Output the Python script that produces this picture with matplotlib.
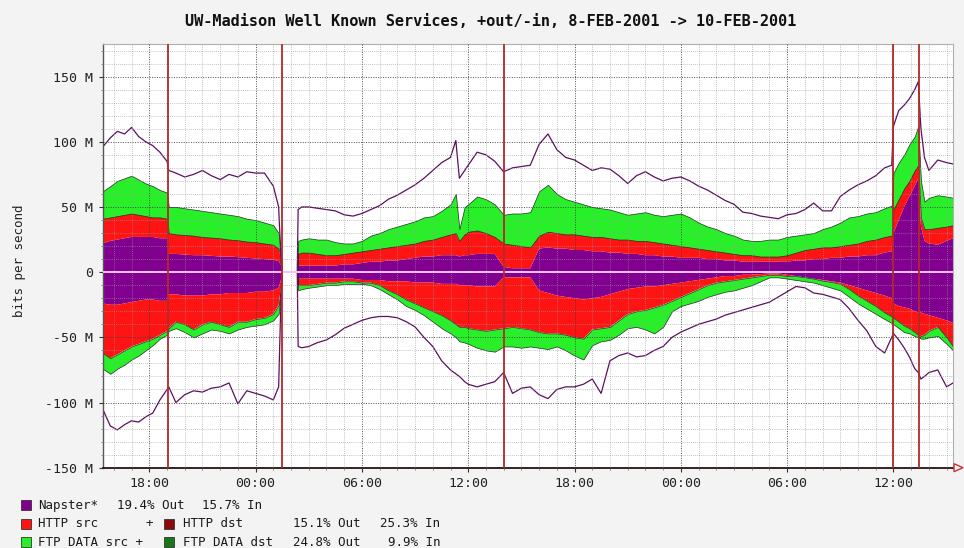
import numpy as np
import matplotlib
matplotlib.use("Agg")
import matplotlib.pyplot as plt
from matplotlib.patches import Rectangle, Polygon
from matplotlib.ticker import MultipleLocator

# ---------------- data (hours since 18:00, 8-FEB-2001; values in Mbit/s) ----------------
hours = [-2.63, -2.2, -1.8, -1.4, -1.0, -0.6, -0.2, 0.2, 0.6, 1.0, 1.1, 1.5, 2.0, 2.5, 3.0,
         3.5, 4.0, 4.5, 5.0, 5.5, 6.0, 6.5, 7.0, 7.3, 7.45,
         7.5, 8.35,
         8.4, 8.6, 9.0, 9.5, 10.0, 10.5, 11.0, 11.5, 12.0, 12.5,
         13.0, 13.5, 14.0, 14.5, 15.0, 15.5, 16.0, 16.5, 17.0, 17.3,
         17.5, 17.8, 18.0, 18.5, 19.0, 19.5, 20.0, 20.5, 21.0, 21.5,
         22.0, 22.5, 23.0, 23.5, 24.0, 24.5, 25.0, 25.5, 26.0, 26.5,
         27.0, 27.5, 28.0, 28.5, 29.0, 29.5, 30.0, 30.5, 31.0, 31.5,
         32.0, 32.5, 33.0, 33.5, 34.0, 34.5, 35.0, 35.5, 36.0, 36.5,
         37.0, 37.5, 38.0, 38.5, 39.0, 39.5, 40.0, 40.5, 41.0, 41.5,
         41.9, 42.0, 42.3, 42.6, 42.9, 43.2, 43.4, 43.55, 43.75,
         44.0, 44.5, 45.0, 45.36]

napster_out = [22, 24, 25, 26, 27, 27, 27, 27, 26, 26, 14, 14, 13.5, 13, 13, 12.5, 12, 12, 11.5, 11, 10.5, 10, 9.5, 8.5, 5,
               0, 0,
               5, 5, 5, 5, 5, 5, 6, 6, 7, 8,
               8, 9, 9, 10, 11, 12, 12, 13, 13, 13,
               12, 13, 13, 14, 14, 14, 4, 3, 3, 3,
               18, 19, 18, 18, 17, 17, 16, 16, 15, 15,
               14, 14, 13, 13, 12, 12, 11, 11, 11, 10,
               10, 9, 9, 8, 8, 8, 8, 8, 8, 9,
               9, 10, 10, 11, 11, 12, 12, 13, 13, 15,
               16, 30, 40, 50, 58, 66, 72, 35, 24,
               22, 21, 24, 26]

http_out = [19, 18, 18, 18, 18, 17, 16, 15, 16, 15, 16, 15, 15, 15, 14, 14, 14, 13, 13, 12.5, 12.5, 12, 11.5, 9.5, 5,
            0, 0,
            9, 10, 10, 9, 8, 8, 8, 9, 9, 9,
            10, 10, 11, 11, 11, 12, 13, 14, 16, 17,
            12, 16, 18, 18, 16, 13, 18, 18, 17, 16,
            10, 12, 12, 11, 12, 11, 11, 11, 11, 10,
            11, 10, 11, 10, 10, 9, 9, 8, 7, 7,
            6, 6, 5, 5, 5, 4, 4, 4, 5, 6,
            8, 8, 9, 8, 9, 9, 10, 11, 12, 12,
            12, 18, 16, 14, 12, 12, 10, 7, 9,
            11, 13, 11, 10]

ftp_out = [21, 24, 27, 28, 29, 27, 25, 24, 21, 20, 20, 21, 20.5, 20, 20, 19.5, 19, 19, 18.5, 17.5, 17, 16, 15, 12, 2,
           0, 0,
           10, 10, 11, 11, 12, 10, 8, 7, 8, 11,
           12, 14, 15, 16, 17, 18, 18, 20, 23, 30,
           9, 21, 21, 26, 26, 25, 22, 24, 25, 27,
           34, 36, 30, 27, 25, 24, 23, 22, 22, 21,
           19, 21, 22, 21, 21, 23, 25, 23, 20, 18,
           17, 15, 14, 12, 11, 12, 13, 13, 14, 13,
           12, 12, 14, 16, 18, 21, 21, 21, 21, 22,
           23, 28, 28, 26, 28, 26, 30, 28, 21,
           24, 25, 23, 21]

total_out = [96, 103, 108, 106, 111, 104, 100, 97, 92, 85, 78, 76, 73, 75, 78, 74, 71, 75, 73, 77, 76, 76, 66, 50, 5,
             0, 0,
             48, 50, 50, 49, 48, 47, 44, 43, 45, 48,
             51, 56, 59, 63, 67, 72, 78, 84, 88, 101,
             72, 78, 82, 92, 90, 85, 77, 80, 81, 82,
             98, 106, 94, 88, 86, 82, 78, 80, 79, 74,
             68, 74, 77, 73, 70, 72, 73, 70, 66, 63,
             59, 55, 52, 46, 45, 43, 42, 41, 44, 45,
             48, 53, 47, 47, 58, 63, 67, 70, 74, 80,
             82, 112, 124, 128, 133, 140, 146, 110, 88,
             78, 86, 84, 83]

napster_in = [24, 25, 25, 24, 23, 22, 21, 21, 22, 22, 17, 17, 18, 18, 18, 17, 17, 16, 16, 16, 15, 15, 14, 12, 5,
              0, 0,
              5, 5, 5, 5, 5, 5, 5, 5, 6, 6,
              6, 7, 7, 7, 8, 8, 8, 9, 9, 9,
              10, 10, 10, 11, 11, 11, 4, 4, 4, 4,
              14, 16, 18, 19, 20, 21, 20, 19, 17, 15,
              13, 12, 11, 11, 10, 9, 8, 7, 6, 5,
              4, 3, 3, 2, 2, 1.5, 1, 1, 2, 3,
              4, 5, 6, 7, 8, 10, 12, 14, 16, 18,
              20, 24, 26, 27, 28, 30, 31, 31, 32,
              33, 35, 37, 39]

http_in = [38, 41, 38, 36, 34, 33, 32, 30, 26, 23, 26, 21, 22, 26, 22, 21, 23, 26, 22, 22, 21, 20, 18, 13, 5,
           0, 0,
           5, 5, 5, 4, 3, 3, 2, 2, 2, 2,
           4, 7, 10, 14, 16, 19, 22, 24, 28, 31,
           32, 32, 33, 33, 34, 33, 39, 38, 39, 40,
           32, 31, 29, 29, 30, 30, 24, 24, 25, 22,
           19, 18, 18, 16, 15, 13, 11, 9, 7, 5,
           4, 4, 3, 3, 2, 1.5, 1, 1, 1, 0,
           0, 0, 0.5, 0.5, 1, 3, 6, 8, 10, 13,
           14, 11, 12, 14, 15, 16, 17, 18, 16,
           12, 7, 13, 18]

ftp_in = [12, 12, 11, 11, 10, 9, 7, 5, 3, 3, 2, 5, 6, 6, 7, 6, 5, 5, 6, 4, 5, 5, 5, 7, 2,
          0, 0,
          4, 3, 2, 2, 2, 2, 2, 2, 1, 2,
          3, 3, 4, 5, 5, 6, 8, 10, 10, 10,
          11, 12, 12, 14, 15, 17, 14, 15, 15, 13,
          12, 12, 10, 12, 14, 16, 12, 10, 10, 11,
          11, 12, 15, 20, 17, 8, 7, 8, 9, 9,
          9, 8, 8, 7, 6, 4, 2, 2, 2, 3,
          3, 3, 3.5, 4.5, 5, 6, 6, 6, 6, 5,
          5, 5, 5, 5, 4, 3, 2, 2, 3,
          5, 7, 5, 3]

total_in = [105, 118, 121, 117, 114, 115, 111, 108, 98, 90, 88, 100, 94, 91, 92, 89, 88, 85, 101, 91, 93, 95, 98, 88, 10,
            0, 0,
            57, 58, 57, 54, 52, 48, 43, 40, 37, 35,
            34, 34, 35, 38, 42, 50, 57, 68, 75, 78,
            80, 84, 86, 88, 86, 84, 77, 93, 89, 88,
            94, 97, 90, 88, 88, 86, 82, 93, 68, 64,
            62, 65, 64, 60, 57, 50, 46, 43, 40, 38,
            36, 33, 31, 29, 27, 25, 23, 19, 15, 11,
            12, 16, 17, 19, 21, 28, 37, 45, 57, 62,
            50, 47, 52, 58, 65, 74, 77, 82, 80,
            77, 75, 88, 85]

event_hours = [1.04, 7.47, 20.03, 41.95, 43.45]

x_tick_hours = [0, 6, 12, 18, 24, 30, 36, 42]
x_tick_labels = ["18:00", "00:00", "06:00", "12:00", "18:00", "00:00", "06:00", "12:00"]
y_ticks = [-150, -100, -50, 0, 50, 100, 150]
y_tick_labels = ["-150 M", "-100 M", "-50 M", "0", "50 M", "100 M", "150 M"]

title = "UW-Madison Well Known Services, +out/-in, 8-FEB-2001 -> 10-FEB-2001"
ylabel = "bits per second"

# ---------------- style ----------------
W, H = 964, 548
C_PURPLE = "#82008f"
C_RED = "#ff1414"
C_DRED = "#8a0a0a"
C_GREEN = "#28f028"
C_DGREEN = "#187818"
C_LINE = "#5c1060"
C_EVENT = "#b4282a"
MONO = "DejaVu Sans Mono"

fig = plt.figure(figsize=(W / 100, H / 100), dpi=100, facecolor="#f3f3f3")
ax_l, ax_r, ax_t, ax_b = 102.7, 953.0, 44.0, 467.7
ax = fig.add_axes([ax_l / W, 1 - ax_b / H, (ax_r - ax_l) / W, (ax_b - ax_t) / H])
ax.set_facecolor("white")

t = np.array(hours)
pos = ax.stackplot(t, napster_out, http_out, ftp_out,
                   colors=[C_PURPLE, C_RED, C_GREEN], linewidth=0, zorder=1)
neg = ax.stackplot(t, -np.array(napster_in), -np.array(http_in), -np.array(ftp_in),
                   colors=[C_PURPLE, C_RED, C_GREEN], linewidth=0, zorder=1)
for polys in (pos, neg):
    polys[2].set_edgecolor("#1e2e1e")
    polys[2].set_linewidth(0.5)

ax.plot(t, total_out, color=C_LINE, lw=0.9, zorder=2)
ax.plot(t, -np.array(total_in), color=C_LINE, lw=0.9, zorder=2)

ax.axhline(0, color="#ffc4ff", lw=1.4, zorder=3)
for h in event_hours:
    ax.axvline(h, color=C_EVENT, lw=1.3, zorder=4)

ax.set_xlim(-2.63, 45.36)
ax.set_ylim(-150, 175)

ax.set_xticks(x_tick_hours)
ax.set_xticklabels(x_tick_labels, fontfamily=MONO, fontsize=9.5, color="#222222")
ax.set_yticks(y_ticks)
ax.set_yticklabels(y_tick_labels, fontfamily=MONO, fontsize=9.5, color="#222222")
ax.xaxis.set_minor_locator(MultipleLocator(1))
ax.yaxis.set_minor_locator(MultipleLocator(10))
ax.tick_params(which="major", direction="out", length=2.8, width=0.8, color="#333333", pad=4)
ax.tick_params(which="minor", direction="out", length=1.2, width=0.6, color="#777777")

ax.set_axisbelow(False)
ax.grid(which="minor", color="#9a9a9a", ls=(0, (1, 1.5)), lw=0.6, alpha=0.8, zorder=2.5)
ax.grid(which="major", color="#3c3c3c", ls=(0, (1, 1.5)), lw=0.7, alpha=0.9, zorder=2.5)

for s in ("top", "right"):
    ax.spines[s].set_color("#b0b0b0")
    ax.spines[s].set_linewidth(0.8)
ax.spines["left"].set_color("#555555")
ax.spines["left"].set_linewidth(1.0)
ax.spines["bottom"].set_color("#2a1010")
ax.spines["bottom"].set_linewidth(1.3)

# arrow at end of time axis
ay = 1 - ax_b / H
fig.add_artist(Polygon([[954 / W, ay + 4 / H], [963 / W, ay], [954 / W, ay - 4 / H]],
                       closed=True, facecolor="none", edgecolor="#d03030", lw=1.0,
                       transform=fig.transFigure))

fig.text(491 / W, 1 - 21 / H, title, ha="center", va="center", fontfamily=MONO,
         fontsize=11, fontweight="bold", color="#111111")
fig.text(20 / W, 1 - 261 / H, ylabel, ha="center", va="center", rotation=90,
         fontfamily=MONO, fontsize=9, color="#222222")

# ---------------- legend ----------------
def square(x, yc, color):
    fig.add_artist(Rectangle((x / W, 1 - (yc + 5) / H), 10 / W, 10 / H, facecolor=color,
                             edgecolor="#333333", lw=0.6, transform=fig.transFigure))

def label(x, yc, s):
    fig.text(x / W, 1 - yc / H, s, ha="left", va="center", fontfamily=MONO,
             fontsize=9, color="#1a1a1a")

rows = [505.3, 523.5, 542.3]
square(20.7, rows[0], C_PURPLE)
label(38, rows[0], "Napster*")
label(116.7, rows[0], "19.4% Out")
label(201.7, rows[0], "15.7% In")

square(20.7, rows[1], C_RED)
label(38, rows[1], "HTTP src")
label(145, rows[1], "+")
square(164, rows[1], C_DRED)
label(182.7, rows[1], "HTTP dst")
label(292.7, rows[1], "15.1% Out")
label(380, rows[1], "25.3% In")

square(20.7, rows[2], C_GREEN)
label(38, rows[2], "FTP DATA src +")
square(164, rows[2], C_DGREEN)
label(183, rows[2], "FTP DATA dst")
label(292.7, rows[2], "24.8% Out")
label(387.7, rows[2], "9.9% In")

fig.savefig("out.png", dpi=100, facecolor=fig.get_facecolor())
